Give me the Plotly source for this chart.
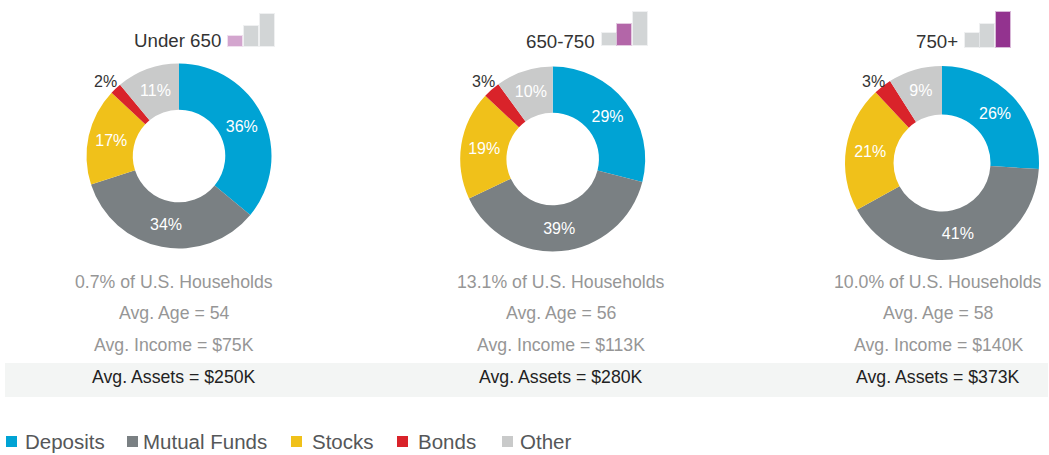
import plotly.graph_objects as go

W, H = 1049, 455
categories = ["Deposits", "Mutual Funds", "Stocks", "Bonds", "Other"]
colors = ["#00A3D4", "#7A8083", "#F0C11A", "#D9232A", "#C9CACA"]
groups = ["Under 650", "650-750", "750+"]
under_650 = [36, 34, 17, 2, 11]
mid_650_750 = [29, 39, 19, 3, 10]
over_750 = [26, 41, 21, 3, 9]
series = [under_650, mid_650_750, over_750]
households = ["0.7% of U.S. Households", "13.1% of U.S. Households", "10.0% of U.S. Households"]
ages = ["Avg. Age = 54", "Avg. Age = 56", "Avg. Age = 58"]
incomes = ["Avg. Income = $75K", "Avg. Income = $113K", "Avg. Income = $140K"]
assets = ["Avg. Assets = $250K", "Avg. Assets = $280K", "Avg. Assets = $373K"]
signal_heights = [[10, 20, 32], [12, 21, 33], [14, 23, 35]]
signal_active = [0, 1, 2]
signal_colors = ["#D3A5CE", "#B366A8", "#93338F"]

FONT = "Liberation Sans"
centers = [(179, 156, 92.5), (552.7, 159, 92.5), (942, 163, 97)]
text_cx = [174, 561, 938]
title_pos = [(177, 40), (560, 41), (937, 41)]
signal_x = [(228, 244, 260), (602, 617, 633), (965, 980, 996)]
signal_base = [46, 45, 47]
sig_w = 14
small_label_pos = [(105, 81), (483, 81), (873, 81)]


def px(x):
    return x / W


def py(y):
    return 1 - y / H


fig = go.Figure()
shapes, ann = [], []
shapes.append(dict(type="rect", xref="paper", yref="paper", x0=px(5), x1=px(1048), y0=py(397), y1=py(363),
                   fillcolor="#F3F5F4", line_width=0, layer="below"))


def text(x, y, s, size, color, anchor="center"):
    ann.append(dict(text=s, x=px(x), y=py(y), xref="paper", yref="paper", showarrow=False, xanchor=anchor,
                    yanchor="middle", font=dict(family=FONT, size=size, color=color)))


for i, vals in enumerate(series):
    cx, cy, r = centers[i]
    labels_text = [f"{v}%" for v in vals]
    labels_text[3] = ""
    fig.add_trace(go.Pie(
        labels=categories, values=vals, sort=False, direction="clockwise", rotation=0, hole=0.5,
        marker=dict(colors=colors, line=dict(width=0)), text=labels_text, textinfo="text",
        textposition="inside",
        insidetextorientation="horizontal",
        insidetextfont=dict(family=FONT, size=16, color="white"),
        domain=dict(x=[px(cx - r), px(cx + r)], y=[py(cy + r), py(cy - r)]),
        showlegend=False, automargin=False, hoverinfo="label+percent",
    ))
    lx, ly = small_label_pos[i]
    text(lx, ly, f"{vals[3]}%", 16, "#333333")
    tx, ty = title_pos[i]
    text(tx, ty, groups[i], 18.7, "#333333")
    text(text_cx[i], 282, households[i], 17.7, "#969696")
    text(text_cx[i], 313, ages[i], 17.7, "#969696")
    text(text_cx[i], 345, incomes[i], 17.7, "#969696")
    text(text_cx[i], 377, assets[i], 17.7, "#222222")
    for j, h in enumerate(signal_heights[i]):
        c = signal_colors[i] if j == signal_active[i] else "#D2D5D6"
        x0 = signal_x[i][j]
        b = signal_base[i]
        # soft halo, then the solid bar, to approximate the blurred icon
        shapes.append(dict(type="rect", xref="paper", yref="paper", x0=px(x0 - 1), x1=px(x0 + sig_w + 1),
                           y0=py(b + 1), y1=py(b - h - 1), fillcolor=c, opacity=0.35, line_width=0))
        shapes.append(dict(type="rect", xref="paper", yref="paper", x0=px(x0), x1=px(x0 + sig_w),
                           y0=py(b), y1=py(b - h), fillcolor=c, line_width=0))

legend_x = [(6, 23), (127, 141), (291, 310), (397, 416), (502, 518)]
for (sx, tx), c, name in zip(legend_x, colors, categories):
    shapes.append(dict(type="rect", xref="paper", yref="paper", x0=px(sx), x1=px(sx + 11), y0=py(447), y1=py(436),
                       fillcolor=c, line_width=0))
    text(tx, 441, name, 20.5, "#555759", "left")

fig.update_layout(width=W, height=H, margin=dict(l=0, r=0, t=0, b=0), paper_bgcolor="white",
                  plot_bgcolor="white", shapes=shapes, annotations=ann, showlegend=False,
                  font=dict(family=FONT))
fig.write_html("out.html", config=dict(displayModeBar=False),
               post_script="document.body.style.margin='0';document.documentElement.style.overflow='hidden';")
